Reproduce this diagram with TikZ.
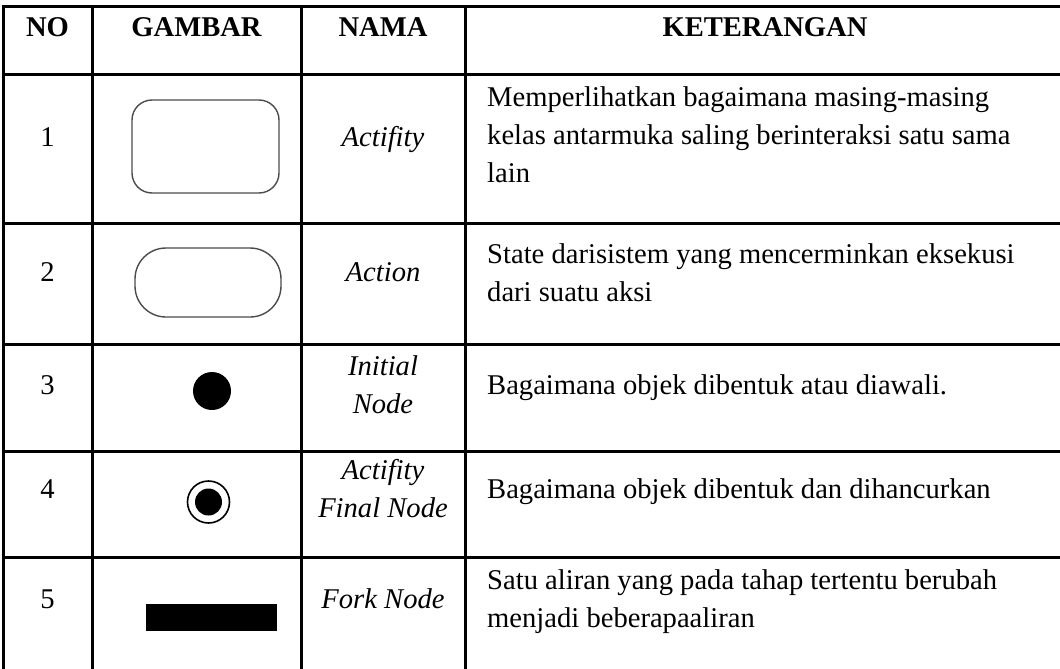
\documentclass[tikz,border=0pt]{standalone}
\usepackage{fontspec}
\setmainfont{Liberation Serif}
\begin{document}
\begin{tikzpicture}[x=1pt,y=-1pt,
  rule/.style={line width=3pt, line cap=rect},
  body/.style={font=\fontsize{28.6}{38}\selectfont, inner sep=0pt, anchor=base},
  head/.style={body, font=\fontsize{28.6}{38}\selectfont\bfseries},
  nama/.style={body, font=\fontsize{28.6}{38}\selectfont\itshape},
  ket/.style={body, anchor=base west},
  shapeline/.style={draw=black!70, line width=1.4pt, inner sep=0pt}]
\useasboundingbox (0,0) rectangle (1060,669);
% table rules
\foreach \y in {7,75,223,344,451,557} \draw[rule] (3,\y) -- (1063,\y);
\foreach \x in {3,92,301,465} \draw[rule] (\x,7) -- (\x,673);
% header
\node[head] (hno) at (47.5,37) {NO};
\node[head] (hgam) at (196.5,37) {GAMBAR};
\node[head] (hnama) at (383,37) {NAMA};
\node[head] (hket) at (765,37) {KETERANGAN};
% row 1
\node[body] (n1) at (47.5,146) {1};
\node[shapeline, rounded corners=20pt, minimum width=147pt, minimum height=93pt] (g1) at (205.5,146.5) {};
\node[nama] (a1) at (383,146) {Actifity};
\node[ket] (k1a) at (487,106) {Memperlihatkan bagaimana masing-masing};
\node[ket] (k1b) at (487,144) {kelas antarmuka saling berinteraksi satu sama};
\node[ket] (k1c) at (487,182) {lain};
% row 2
\node[body] (n2) at (47.5,281) {2};
\node[shapeline, rounded corners=31pt, minimum width=146pt, minimum height=69pt] (g2) at (208,282.5) {};
\node[nama] (a2) at (383,281) {Action};
\node[ket] (k2a) at (487,263) {State darisistem yang mencerminkan eksekusi};
\node[ket] (k2b) at (487,301) {dari suatu aksi};
% row 3
\node[body] (n3) at (47.5,394) {3};
\node[circle, fill=black, minimum size=38pt, inner sep=0pt] (g3) at (212,391) {};
\node[nama] (a3a) at (383,375) {Initial};
\node[nama] (a3b) at (383,413) {Node};
\node[ket] (k3) at (487,394) {Bagaimana objek dibentuk atau diawali.};
% row 4
\node[body] (n4) at (47.5,498) {4};
\node[circle, draw=black, line width=1.6pt, minimum size=42pt, inner sep=0pt] (g4) at (208.5,502) {};
\node[circle, fill=black, minimum size=27pt, inner sep=0pt] (g4i) at (g4.center) {};
\node[nama] (a4a) at (383,479) {Actifity};
\node[nama] (a4b) at (383,517) {Final Node};
\node[ket] (k4) at (487,498) {Bagaimana objek dibentuk dan dihancurkan};
% row 5
\node[body] (n5) at (47.5,608) {5};
\node[fill=black, minimum width=131pt, minimum height=27pt, inner sep=0pt] (g5) at (211.5,617.5) {};
\node[nama] (a5) at (383,608) {Fork Node};
\node[ket] (k5a) at (487,589) {Satu aliran yang pada tahap tertentu berubah};
\node[ket] (k5b) at (487,627) {menjadi beberapaaliran};
\end{tikzpicture}
\end{document}
